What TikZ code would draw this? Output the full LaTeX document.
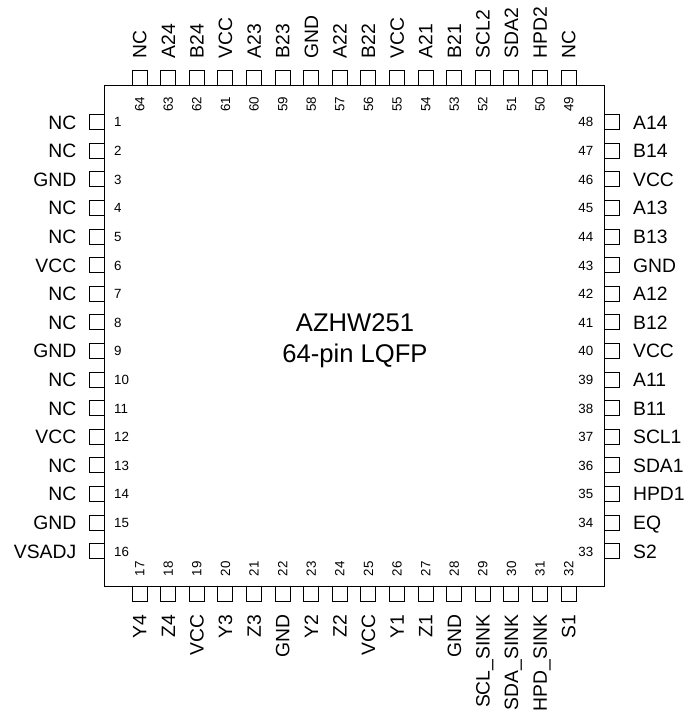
\documentclass[tikz,border=0pt]{standalone}
\usepackage{fontspec}
\setmainfont{Liberation Sans}
\usetikzlibrary{positioning}
\newcommand{\uptext}[1]{\rotatebox{90}{\raisebox{0pt}[0.716em][0pt]{#1}}}
\tikzset{
	chipbody/.style={draw,line width=0.75pt,minimum width=375pt,minimum height=375pt,inner sep=0pt},
	chiptitle/.style={inner sep=0pt,align=center,font=\fontsize{19.2}{23}\selectfont},
	pinbox/.style={draw,line width=0.75pt,minimum size=11.25pt,inner sep=0pt},
	pinname/.style={inner sep=0pt,font=\fontsize{14.5}{16}\selectfont},
	pinnum/.style={inner sep=0pt,font=\fontsize{10}{12}\selectfont},
	leftpin/.style 2 args={pinbox,label={[pinname,text height=10.4pt,text depth=0pt,label distance=9pt]left:#1},label={[pinnum,text height=7.2pt,text depth=0pt,label distance=7pt]right:#2}},
	rightpin/.style 2 args={pinbox,label={[pinname,text height=10.4pt,text depth=0pt,label distance=10pt]right:#1},label={[pinnum,text height=7.2pt,text depth=0pt,label distance=7.5pt]left:#2}},
	toppin/.style 2 args={pinbox,label={[pinname,label distance=9pt]above:\uptext{#1}},label={[pinnum,label distance=7.5pt]below:\uptext{#2}}},
	bottompin/.style 2 args={pinbox,label={[pinname,label distance=9.5pt]below:\uptext{#1}},label={[pinnum,label distance=6.75pt]above:\uptext{#2}}}
}
\begin{document}
\begin{tikzpicture}[x=0.75pt,y=-0.75pt]
	\useasboundingbox (0,0) rectangle (684,713);
	\node (chip) at (354,336)[chipbody] {};
	\node (title) at (355,340.5)[chiptitle] {AZHW251\\64-pin LQFP};
	% left side
	\node (pin1) at (96.5,122.2)[leftpin={NC}{1}] {};
	\node (pin2) at (96.5,150.8)[leftpin={NC}{2}] {};
	\node (pin3) at (96.5,179.4)[leftpin={GND}{3}] {};
	\node (pin4) at (96.5,208)[leftpin={NC}{4}] {};
	\node (pin5) at (96.5,236.6)[leftpin={NC}{5}] {};
	\node (pin6) at (96.5,265.2)[leftpin={VCC}{6}] {};
	\node (pin7) at (96.5,293.8)[leftpin={NC}{7}] {};
	\node (pin8) at (96.5,322.4)[leftpin={NC}{8}] {};
	\node (pin9) at (96.5,351)[leftpin={GND}{9}] {};
	\node (pin10) at (96.5,379.6)[leftpin={NC}{10}] {};
	\node (pin11) at (96.5,408.2)[leftpin={NC}{11}] {};
	\node (pin12) at (96.5,436.8)[leftpin={VCC}{12}] {};
	\node (pin13) at (96.5,465.4)[leftpin={NC}{13}] {};
	\node (pin14) at (96.5,494)[leftpin={NC}{14}] {};
	\node (pin15) at (96.5,522.6)[leftpin={GND}{15}] {};
	\node (pin16) at (96.5,551.2)[leftpin={VSADJ}{16}] {};
	% bottom side
	\node (pin17) at (139.5,593.5)[bottompin={Y4}{17}] {};
	\node (pin18) at (168.1,593.5)[bottompin={Z4}{18}] {};
	\node (pin19) at (196.7,593.5)[bottompin={VCC}{19}] {};
	\node (pin20) at (225.3,593.5)[bottompin={Y3}{20}] {};
	\node (pin21) at (253.9,593.5)[bottompin={Z3}{21}] {};
	\node (pin22) at (282.5,593.5)[bottompin={GND}{22}] {};
	\node (pin23) at (311.1,593.5)[bottompin={Y2}{23}] {};
	\node (pin24) at (339.7,593.5)[bottompin={Z2}{24}] {};
	\node (pin25) at (368.3,593.5)[bottompin={VCC}{25}] {};
	\node (pin26) at (396.9,593.5)[bottompin={Y1}{26}] {};
	\node (pin27) at (425.5,593.5)[bottompin={Z1}{27}] {};
	\node (pin28) at (454.1,593.5)[bottompin={GND}{28}] {};
	\node (pin29) at (482.7,593.5)[bottompin={SCL\_SINK}{29}] {};
	\node (pin30) at (511.3,593.5)[bottompin={SDA\_SINK}{30}] {};
	\node (pin31) at (539.9,593.5)[bottompin={HPD\_SINK}{31}] {};
	\node (pin32) at (568.5,593.5)[bottompin={S1}{32}] {};
	% right side
	\node (pin33) at (611.5,551.2)[rightpin={S2}{33}] {};
	\node (pin34) at (611.5,522.6)[rightpin={EQ}{34}] {};
	\node (pin35) at (611.5,494)[rightpin={HPD1}{35}] {};
	\node (pin36) at (611.5,465.4)[rightpin={SDA1}{36}] {};
	\node (pin37) at (611.5,436.8)[rightpin={SCL1}{37}] {};
	\node (pin38) at (611.5,408.2)[rightpin={B11}{38}] {};
	\node (pin39) at (611.5,379.6)[rightpin={A11}{39}] {};
	\node (pin40) at (611.5,351)[rightpin={VCC}{40}] {};
	\node (pin41) at (611.5,322.4)[rightpin={B12}{41}] {};
	\node (pin42) at (611.5,293.8)[rightpin={A12}{42}] {};
	\node (pin43) at (611.5,265.2)[rightpin={GND}{43}] {};
	\node (pin44) at (611.5,236.6)[rightpin={B13}{44}] {};
	\node (pin45) at (611.5,208)[rightpin={A13}{45}] {};
	\node (pin46) at (611.5,179.4)[rightpin={VCC}{46}] {};
	\node (pin47) at (611.5,150.8)[rightpin={B14}{47}] {};
	\node (pin48) at (611.5,122.2)[rightpin={A14}{48}] {};
	% top side
	\node (pin49) at (568.5,78.5)[toppin={NC}{49}] {};
	\node (pin50) at (539.9,78.5)[toppin={HPD2}{50}] {};
	\node (pin51) at (511.3,78.5)[toppin={SDA2}{51}] {};
	\node (pin52) at (482.7,78.5)[toppin={SCL2}{52}] {};
	\node (pin53) at (454.1,78.5)[toppin={B21}{53}] {};
	\node (pin54) at (425.5,78.5)[toppin={A21}{54}] {};
	\node (pin55) at (396.9,78.5)[toppin={VCC}{55}] {};
	\node (pin56) at (368.3,78.5)[toppin={B22}{56}] {};
	\node (pin57) at (339.7,78.5)[toppin={A22}{57}] {};
	\node (pin58) at (311.1,78.5)[toppin={GND}{58}] {};
	\node (pin59) at (282.5,78.5)[toppin={B23}{59}] {};
	\node (pin60) at (253.9,78.5)[toppin={A23}{60}] {};
	\node (pin61) at (225.3,78.5)[toppin={VCC}{61}] {};
	\node (pin62) at (196.7,78.5)[toppin={B24}{62}] {};
	\node (pin63) at (168.1,78.5)[toppin={A24}{63}] {};
	\node (pin64) at (139.5,78.5)[toppin={NC}{64}] {};
\end{tikzpicture}
\end{document}
